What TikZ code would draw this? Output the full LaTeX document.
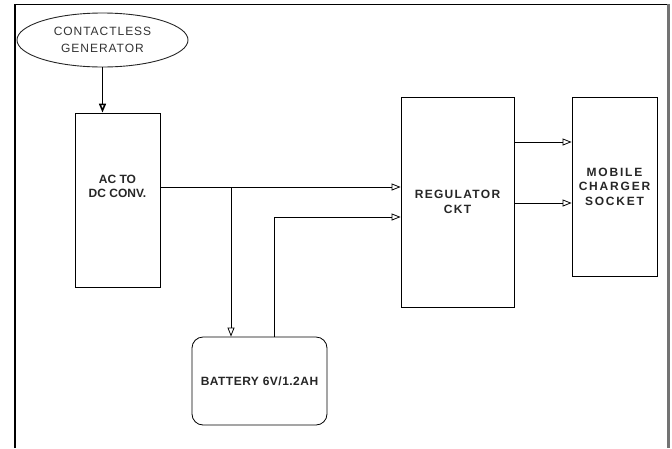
\documentclass[tikz,border=0pt]{standalone}
\usepackage{fontspec}
\setmainfont{Liberation Sans}
\newfontfamily\spgen[LetterSpace=8]{Liberation Sans}
\newfontfamily\spreg[LetterSpace=11]{Liberation Sans}
\newfontfamily\spbox[LetterSpace=15]{Liberation Sans}
\newfontfamily\spbat[LetterSpace=4]{Liberation Sans}
\usetikzlibrary{arrows.meta,shapes.geometric}
\begin{document}
\begin{tikzpicture}[x=1pt,y=-1pt,
  line width=0.8pt,
  lbl/.style={font=\fontsize{12}{14}\selectfont\bfseries, align=center, text=black!85},
  oarrow/.style={-{Triangle[open,length=9pt,width=7pt]}},
]
\useasboundingbox (0,0) rectangle (672,448);
% frame
\draw[line width=1.3pt] (15,448) -- (15,4.5) -- (668,4.5);
\draw[line width=2.6pt, black!55] (668.5,3.8) -- (668.5,448);

% nodes
\node[ellipse, draw=black!85, line width=0.9pt, minimum width=171pt, minimum height=54pt, inner sep=0pt,
      font=\spgen\fontsize{12}{17}\selectfont, align=center, text=black!80]
      (gen) at (102.5,40) {CONTACTLESS\\GENERATOR};
\node[draw, minimum width=85pt, minimum height=174pt, inner sep=0pt] (ac) at (117.5,200) {};
\node[lbl] (actext) at (117.5,186.5) {AC TO\\DC CONV.};
\node[draw, minimum width=113pt, minimum height=210pt, inner sep=0pt,
      lbl, font=\spreg\fontsize{12}{14.5}\selectfont\bfseries]
      (reg) at (457.5,202) {REGULATOR\\CKT};
\node[draw, minimum width=85pt, minimum height=179pt, inner sep=0pt,
      lbl, font=\spbox\fontsize{12}{14.5}\selectfont\bfseries]
      (mob) at (614.5,186.5) {MOBILE\\CHARGER\\SOCKET};
\node[draw, rounded corners=11pt, minimum width=135pt, minimum height=88pt, inner sep=0pt,
      lbl, font=\spbat\fontsize{12}{14}\selectfont\bfseries]
      (bat) at (259.5,381) {BATTERY 6V/1.2AH};

% helper coordinates
\coordinate (acout) at (0,187);
\coordinate (jn) at (231,187);
\coordinate (batup) at (274,217);
\coordinate (o1) at (0,142);
\coordinate (o2) at (0,203);

% connectors
\draw[oarrow, line width=1.6pt] (gen.south) -- (gen.south |- ac.north);
\draw[oarrow] (ac.east |- acout) -- (reg.west |- acout);
\draw[oarrow] (jn) -- (jn |- bat.north);
\draw[oarrow] (batup |- bat.north) -- (batup) -- (reg.west |- batup);
\draw[oarrow] (reg.east |- o1) -- (mob.west |- o1);
\draw[oarrow] (reg.east |- o2) -- (mob.west |- o2);
\end{tikzpicture}
\end{document}
